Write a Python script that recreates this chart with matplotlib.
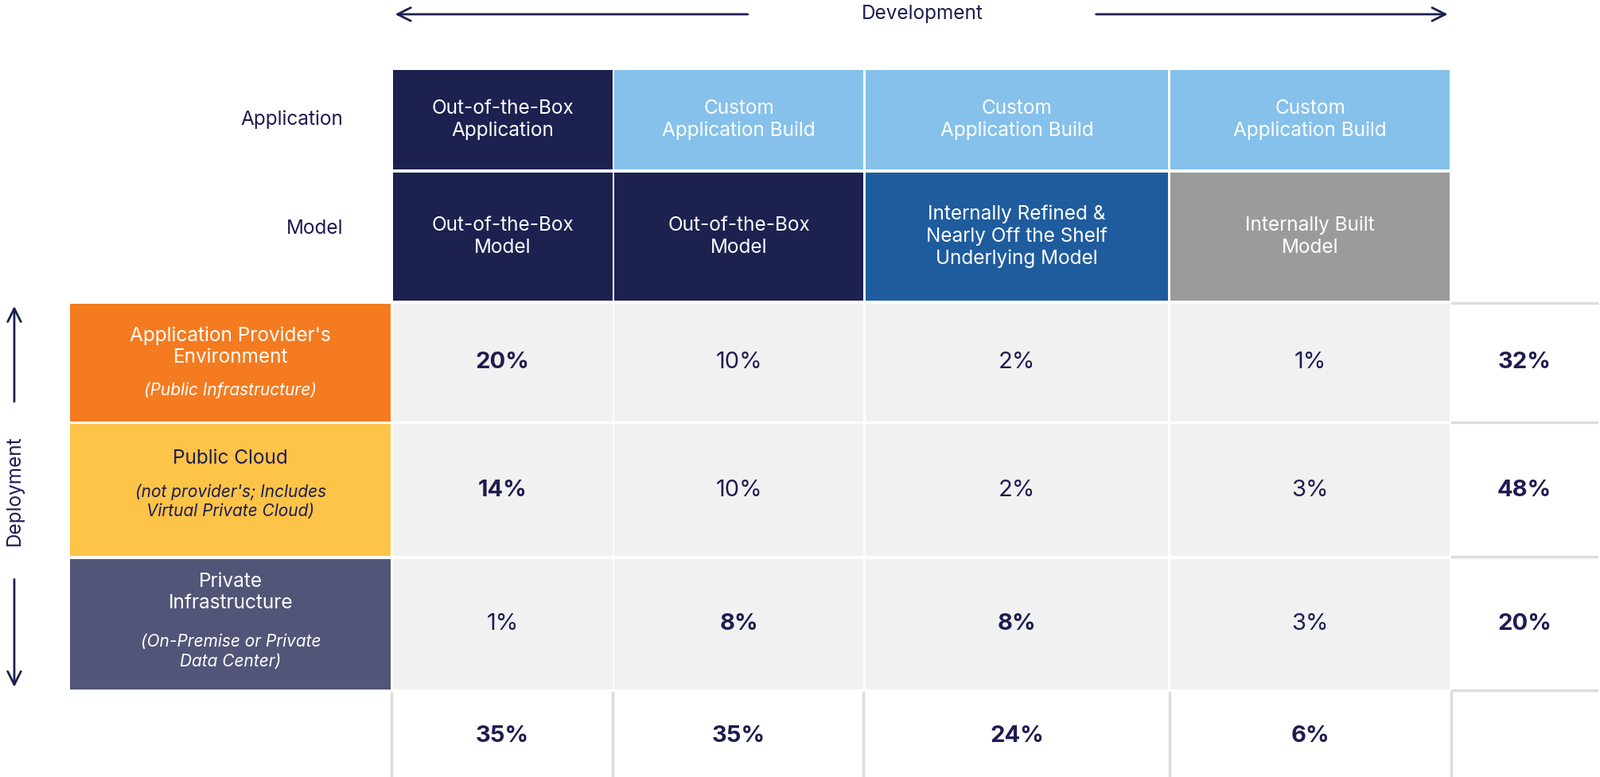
import matplotlib
matplotlib.use("Agg")
import matplotlib.pyplot as plt
from matplotlib.patches import Rectangle

app_labels = ["Out-of-the-Box\nApplication", "Custom\nApplication Build", "Custom\nApplication Build", "Custom\nApplication Build"]
model_labels = ["Out-of-the-Box\nModel", "Out-of-the-Box\nModel", "Internally Refined &\nNearly Off the Shelf\nUnderlying Model", "Internally Built\nModel"]
deploy_titles = ["Application Provider's\nEnvironment", "Public Cloud", "Private\nInfrastructure"]
deploy_subs = ["(Public Infrastructure)", "(not provider's; Includes\nVirtual Private Cloud)", "(On-Premise or Private\nData Center)"]
values = [[20, 10, 2, 1], [14, 10, 2, 3], [1, 8, 8, 3]]
bold = [[True, False, False, False], [True, False, False, False], [False, True, True, False]]
row_totals = [32, 48, 20]
col_totals = [35, 35, 24, 6]

NAVY = "#1c1f4d"
TXT = "#1e1c50"
app_colors = ["#1c2150", "#85c1ea", "#85c1ea", "#85c1ea"]
model_colors = ["#1c2150", "#1c2150", "#1f5c9e", "#9b9b9b"]
deploy_colors = ["#f47b20", "#fdc448", "#525577"]
CELL = "#f0f1f0"

plt.rcParams["font.family"] = "Inter"
fig = plt.figure(figsize=(20.11, 9.77), dpi=100)
ax = fig.add_axes([0, 0, 1, 1])
ax.set_xlim(0, 1568); ax.set_ylim(762, 0); ax.axis("off")

cols = [(385, 600), (602, 846), (848, 1145), (1147, 1421)]
tot_col = (1423, 1565)
rows = [(298, 413), (416, 545), (548, 676)]
app_row = (69, 166); model_row = (169, 295); tot_row = (678, 762)

def box(x0, x1, y0, y1, c):
    ax.add_patch(Rectangle((x0, y0), x1 - x0, y1 - y0, color=c, lw=0))

for i, (x0, x1) in enumerate(cols):
    cx = (x0 + x1) / 2
    box(x0, x1, *app_row, app_colors[i])
    ax.text(cx, sum(app_row) / 2, app_labels[i], color="white", ha="center", va="center", fontsize=17.5, linespacing=1.25)
    box(x0, x1, *model_row, model_colors[i])
    ax.text(cx, sum(model_row) / 2, model_labels[i], color="white", ha="center", va="center", fontsize=17.5, linespacing=1.25)
    for r, (y0, y1) in enumerate(rows):
        box(x0, x1, y0, y1, CELL)
        ax.text(cx, (y0 + y1) / 2, f"{values[r][i]}%", color=TXT, ha="center", va="center",
                fontsize=21, fontweight="bold" if bold[r][i] else "normal")
    ax.text(cx, sum(tot_row) / 2 + 2, f"{col_totals[i]}%", color=TXT, ha="center", va="center", fontsize=21, fontweight="bold")

for x in [384, 600, 846, 1146, 1422]:
    ax.plot([x, x], [679, 762], color="#dddddd", lw=2.5)
for y in [297, 414, 546, 677]:
    ax.plot([1423, 1565], [y, y], color="#dddddd", lw=2.5)
for r, (y0, y1) in enumerate(rows):
    ax.text(sum(tot_col) / 2, (y0 + y1) / 2, f"{row_totals[r]}%", color=TXT, ha="center", va="center", fontsize=21, fontweight="bold")
    box(69, 383, y0, y1, deploy_colors[r])
    tc = TXT if r == 1 else "white"
    cy = (y0 + y1) / 2
    nt = deploy_titles[r].count("\n") + 1
    ns = deploy_subs[r].count("\n") + 1
    total = nt + ns
    lh = 31
    top = cy - total * lh / 2
    ax.text(226, top + nt * lh / 2, deploy_titles[r], color=tc, ha="center", va="center", fontsize=17.5, linespacing=1.25)
    ax.text(226, top + nt * lh + ns * lh / 2 - 4, deploy_subs[r], color=tc, ha="center", va="center", fontsize=15, style="italic", linespacing=1.3)

ax.text(336, sum(app_row) / 2, "Application", color=TXT, ha="right", va="center", fontsize=17.5)
ax.text(336, sum(model_row) / 2 - 8, "Model", color=TXT, ha="right", va="center", fontsize=17.5)

ak = dict(arrowstyle="->", color=NAVY, lw=2, mutation_scale=30)
ax.annotate("", xy=(385, 14), xytext=(735, 14), arrowprops=ak)
ax.annotate("", xy=(1421, 14), xytext=(1072, 14), arrowprops=ak)
ax.text(904, 14, "Development", color=TXT, ha="center", va="center", fontsize=17.5)
ax.annotate("", xy=(14, 298), xytext=(14, 396), arrowprops=ak)
ax.annotate("", xy=(14, 676), xytext=(14, 566), arrowprops=ak)
ax.text(14, 481, "Deployment", color=TXT, ha="center", va="center", fontsize=17.5, rotation=90)

fig.savefig("out.png", dpi=100)
